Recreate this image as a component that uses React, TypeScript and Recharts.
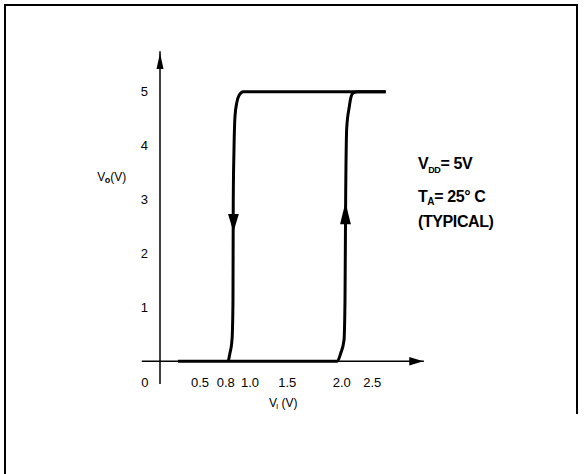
import React from 'react';
import { ComposedChart, Line, XAxis, YAxis, ReferenceLine, ReferenceDot } from 'recharts';

// input voltage tick positions (as drawn) and their printed labels
const xTickPos = [-0.165, 0.44, 0.722, 0.989, 1.399, 1.997, 2.333];
const xTickLabels = ['0', '0.5', '0.8', '1.0', '1.5', '2.0', '2.5'];
const yTicks = [1, 2, 3, 4, 5];

// rising branch: low output until ~2.0V, then switches high
const riseX = [0.198, 1.948, 1.986, 2.022, 2.033, 2.04, 2.052, 2.08, 2.096, 2.124, 2.176, 2.48];
const riseV = [0, 0, 0.15, 0.39, 1.14, 2.97, 4.33, 4.72, 4.88, 4.98, 5, 5];

// falling branch: high output until ~0.8V, then switches low
const fallX = [0.751, 0.769, 0.788, 0.795, 0.802, 0.805, 0.813, 0.824, 0.843, 0.871, 0.915, 2.48];
const fallV = [0, 0.154, 0.34, 0.52, 1.14, 2.97, 3.92, 4.54, 4.79, 4.94, 5, 5];

const riseData = riseX.map((x, i) => ({ x, v: riseV[i] }));
const fallData = fallX.map((x, i) => ({ x, v: fallV[i] }));

const FONT = '"Liberation Sans", Arial, sans-serif';

const arrow = (dir: string, len: number, hw: number) => (p: any) => {
  const { cx, cy } = p;
  let pts = '';
  if (dir === 'up') pts = `${cx},${cy} ${cx - hw},${cy + len} ${cx + hw},${cy + len}`;
  if (dir === 'down') pts = `${cx},${cy} ${cx - hw},${cy - len} ${cx + hw},${cy - len}`;
  if (dir === 'right') pts = `${cx},${cy} ${cx - len},${cy - hw} ${cx - len},${cy + hw}`;
  return <polygon points={pts} fill="#000" />;
};

const XTick = (p: any) => {
  const i = xTickPos.indexOf(p.payload.value);
  return (
    <text x={p.x} y={p.y - 1} textAnchor="middle" dominantBaseline="central" fontSize={13} fontFamily={FONT} fill="#000">
      {xTickLabels[i]}
    </text>
  );
};

const YTick = (p: any) => (
  <text x={p.x + 2.5} y={p.y} textAnchor="middle" dominantBaseline="central" fontSize={13} fontFamily={FONT} fill="#000">
    {p.payload.value}
  </text>
);

const VoLabel = (p: any) => (
  <text x={p.cx} y={p.cy} fontSize={12} fontFamily={FONT} fill="#000" textAnchor="middle" dominantBaseline="central">
    <tspan>V</tspan>
    <tspan fontSize={9} fontWeight="bold" dx={-0.5} dy={3}>o</tspan>
    <tspan dy={-3}>(V)</tspan>
  </text>
);

const ViLabel = (p: any) => (
  <text x={p.cx} y={p.cy} fontSize={12} fontFamily={FONT} fill="#000" textAnchor="middle" dominantBaseline="central">
    <tspan>V</tspan>
    <tspan fontSize={8} dx={-1} dy={3}>I</tspan>
    <tspan dy={-3}> (V)</tspan>
  </text>
);

const Conditions = (p: any) => (
  <text x={p.cx} y={p.cy} fontSize={16} fontWeight="bold" fontFamily={FONT} fill="#000" letterSpacing={-0.4}>
    <tspan x={p.cx}>V</tspan>
    <tspan fontSize={9} dy={4}>DD</tspan>
    <tspan dy={-4}>= 5V</tspan>
    <tspan x={p.cx} dy={33}>T</tspan>
    <tspan fontSize={10} dy={3}>A</tspan>
    <tspan dy={-3}>= 25° C</tspan>
    <tspan x={p.cx} dy={25}>(TYPICAL)</tspan>
  </text>
);

export default function App() {
  return (
    <div style={{ position: 'absolute', left: 0, top: 0, width: 585, height: 474, background: '#fff' }}>
      <div style={{ position: 'absolute', left: 4, top: 4, width: 2, height: 470, background: '#000' }} />
      <div style={{ position: 'absolute', left: 4, top: 4, width: 574, height: 2, background: '#000' }} />
      <div style={{ position: 'absolute', left: 576, top: 4, width: 2, height: 410, background: '#000' }} />
      <ComposedChart
        width={585}
        height={474}
        margin={{ top: 51.3, right: 161.1, left: 121.8, bottom: 70.1 }}
        style={{ position: 'absolute', left: 0, top: 0 }}
      >
        <XAxis
          dataKey="x"
          type="number"
          domain={[-0.2, 2.9]}
          allowDataOverflow
          ticks={xTickPos}
          interval={0}
          tick={<XTick />}
          axisLine={false}
          tickLine={false}
          tickSize={0}
          tickMargin={0}
          height={20}
        />
        <YAxis
          type="number"
          domain={[-0.42, 5.75]}
          allowDataOverflow
          ticks={yTicks}
          interval={0}
          tick={<YTick />}
          axisLine={false}
          tickLine={false}
          tickSize={0}
          tickMargin={0}
          width={20}
        />
        <ReferenceLine y={0} stroke="#000" strokeWidth={1.5} />
        <ReferenceLine x={0} stroke="#000" strokeWidth={1.5} />
        <Line data={riseData} dataKey="v" type="monotone" stroke="#000" strokeWidth={3} dot={false} isAnimationActive={false} />
        <Line data={fallData} dataKey="v" type="monotone" stroke="#000" strokeWidth={3} dot={false} isAnimationActive={false} />
        <ReferenceDot x={0} y={5.72} r={0} ifOverflow="visible" shape={arrow('up', 16, 3.5)} />
        <ReferenceDot x={2.893} y={0} r={0} ifOverflow="visible" shape={arrow('right', 14, 4.3)} />
        <ReferenceDot x={0.807} y={2.4} r={0} ifOverflow="visible" shape={arrow('down', 18, 5.4)} />
        <ReferenceDot x={2.038} y={2.95} r={0} ifOverflow="visible" shape={arrow('up', 22, 5.4)} />
        <ReferenceDot x={-0.53} y={3.42} r={0} ifOverflow="visible" shape={VoLabel} />
        <ReferenceDot x={1.355} y={-0.78} r={0} ifOverflow="visible" shape={ViLabel} />
        <ReferenceDot x={2.835} y={3.57} r={0} ifOverflow="visible" shape={Conditions} />
      </ComposedChart>
    </div>
  );
}
